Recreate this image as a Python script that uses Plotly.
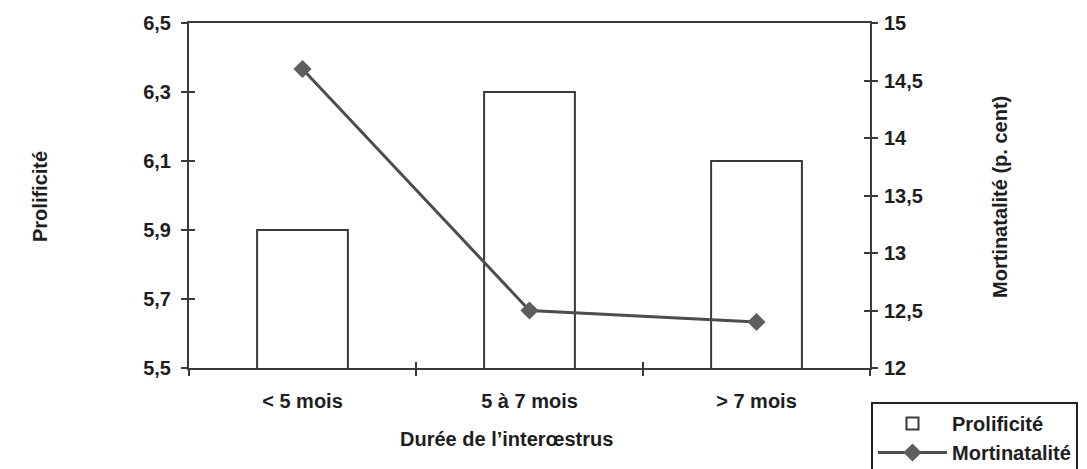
import plotly.graph_objects as go

categories = ["< 5 mois", "5 à 7 mois", "> 7 mois"]
prolificite = [5.9, 6.3, 6.1]
mortinatalite = [14.6, 12.5, 12.4]
left_ticks = [5.5, 5.7, 5.9, 6.1, 6.3, 6.5]
left_ticktext = ["5,5", "5,7", "5,9", "6,1", "6,3", "6,5"]
right_ticks = [12, 12.5, 13, 13.5, 14, 14.5, 15]
right_ticktext = ["12", "12,5", "13", "13,5", "14", "14,5", "15"]

FONT = "Liberation Sans, Arial, sans-serif"
AX = "#3a3a3a"
TXT = "#1e1e1e"
FS = 20

# the page body has an 8px margin: work in figure coords = page coords - 8
OFF = 8
W, H = 1087 - OFF, 469 - OFF
px_l, px_r, px_t, px_b = 189 - OFF, 870 - OFF, 23 - OFF, 368 - OFF
L, R, T, B = px_l, W - px_r, px_t, H - px_b
pw, ph = px_r - px_l, px_b - px_t

fig = go.Figure()
fig.add_trace(go.Bar(
    x=categories, y=prolificite, name="Prolificité", width=0.4,
    marker=dict(color="white", line=dict(color=AX, width=2)),
    yaxis="y", xaxis="x",
))
fig.add_trace(go.Scatter(
    x=categories, y=mortinatalite, name="Mortinatalité", mode="lines+markers",
    line=dict(color="#4d4d4d", width=3),
    marker=dict(symbol="diamond", size=14, color="#5e5e5e"),
    yaxis="y2", xaxis="x",
))
# invisible traces activating overlay axes (inner half of the crossing ticks)
fig.add_trace(go.Scatter(x=categories, y=[None] * 3, xaxis="x2", yaxis="y3",
                         showlegend=False, hoverinfo="skip"))
fig.add_trace(go.Scatter(x=categories, y=[None] * 3, xaxis="x2", yaxis="y4",
                         showlegend=False, hoverinfo="skip"))

tickfont = dict(family=FONT, size=FS, color=TXT, weight="bold")
tickstyle = dict(ticklen=6, tickwidth=1.5, tickcolor=AX)


def pxpos(x, y):
    return (x - OFF - px_l) / pw, (px_b - (y - OFF)) / ph


ann = []
for text, x, y, ang in [("Prolificité", 40, 197, -90),
                        ("Mortinatalité (p. cent)", 1000, 197, -90),
                        ("Durée de l’interœstrus", 506, 439, 0)]:
    ax_, ay_ = pxpos(x, y)
    ann.append(dict(text=text, x=ax_, y=ay_, xref="paper", yref="paper", showarrow=False,
                    textangle=ang, xanchor="center", yanchor="middle",
                    font=dict(family=FONT, size=FS, color=TXT, weight="bold")))

lx, ly = pxpos(871, 402)

fig.update_layout(
    width=W, height=H,
    margin=dict(l=L, r=R, t=T, b=B, autoexpand=False),
    plot_bgcolor="white", paper_bgcolor="white",
    showlegend=True,
    xaxis=dict(
        type="category", range=[-0.5, 2.5], showline=True, linecolor=AX, linewidth=2,
        mirror=True, ticks="outside", tickson="boundaries", **tickstyle,
        tickfont=tickfont, ticklabelstandoff=14, showgrid=False, zeroline=False,
        automargin=False,
    ),
    xaxis2=dict(
        type="category", range=[-0.5, 2.5], overlaying="x", matches="x", ticks="inside",
        tickson="boundaries", **tickstyle, showticklabels=False,
        showgrid=False, showline=False, zeroline=False,
    ),
    yaxis=dict(
        range=[5.5, 6.5], tickvals=left_ticks, ticktext=left_ticktext, showline=True,
        linecolor=AX, linewidth=2, ticks="outside", **tickstyle,
        tickfont=tickfont, ticklabelstandoff=6, showgrid=False, zeroline=False,
        automargin=False,
    ),
    yaxis3=dict(
        range=[5.5, 6.5], tickvals=left_ticks, overlaying="y", side="left", ticks="inside",
        **tickstyle, showticklabels=False, showgrid=False, showline=False, zeroline=False,
    ),
    yaxis2=dict(
        range=[12, 15], tickvals=right_ticks, ticktext=right_ticktext, overlaying="y",
        side="right", showline=True, linecolor=AX, linewidth=2, ticks="outside", **tickstyle,
        tickfont=tickfont, ticklabelstandoff=2, showgrid=False, zeroline=False,
        automargin=False,
    ),
    yaxis4=dict(
        range=[12, 15], tickvals=right_ticks, overlaying="y", side="right", ticks="inside",
        **tickstyle, showticklabels=False, showgrid=False, showline=False, zeroline=False,
    ),
    legend=dict(
        x=lx, y=ly, xanchor="left", yanchor="top",
        bordercolor="#222", borderwidth=2, bgcolor="white",
        font=dict(family=FONT, size=FS, color=TXT, weight="bold"),
        tracegroupgap=0, itemwidth=69,
    ),
    annotations=ann,
)

fig.write_html("out.html")
